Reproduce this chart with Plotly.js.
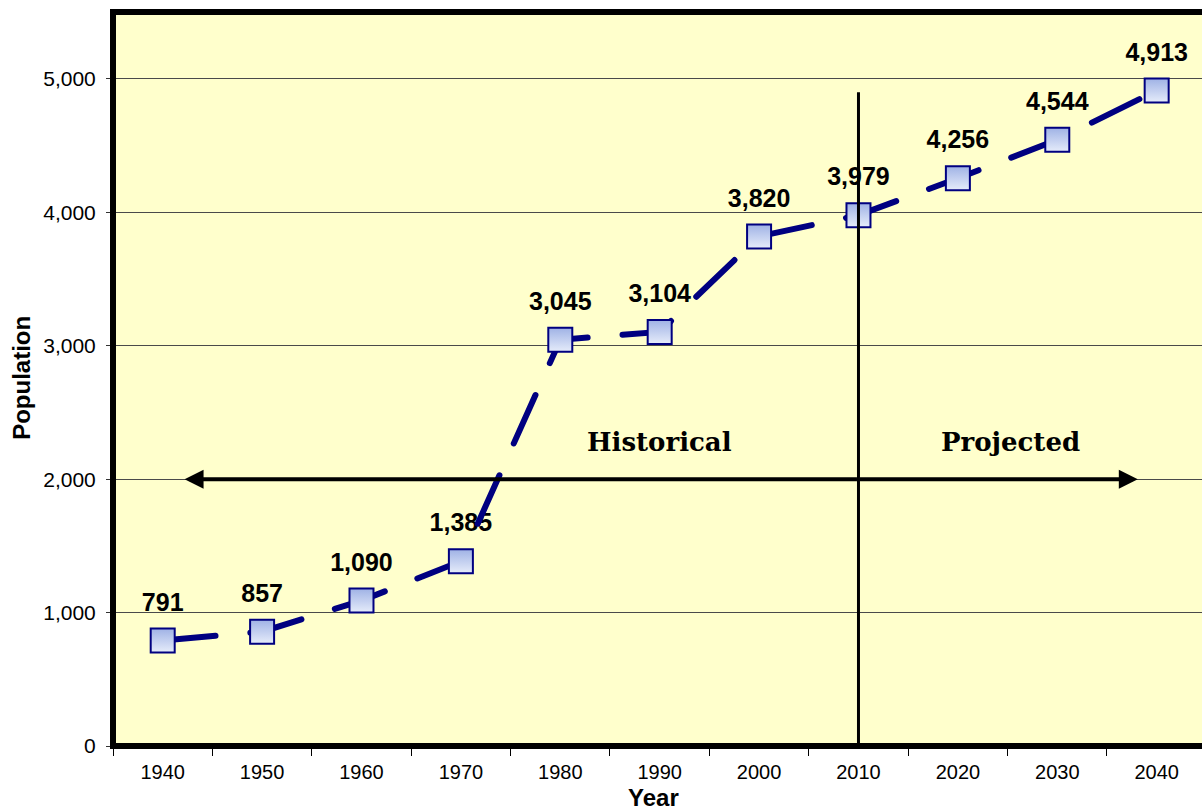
<!DOCTYPE html>
<html>
<head>
<meta charset="utf-8">
<script src="https://cdn.plot.ly/plotly-3.0.1.min.js"></script>
<style>
  html, body { margin: 0; padding: 0; background: #ffffff; overflow: hidden; }
  #chart { width: 1202px; height: 810px; }
  .scatterlayer .js-line { stroke-linecap: round; }
</style>
</head>
<body>
<div id="chart"></div>
<script>
// Census years and population (historical through 2010, projected after)
const years = [1940, 1950, 1960, 1970, 1980, 1990, 2000, 2010, 2020, 2030, 2040];
const population = [791, 857, 1090, 1385, 3045, 3104, 3820, 3979, 4256, 4544, 4913];
const yTicks = [0, 1000, 2000, 3000, 4000, 5000];
const splitYear = 2010;
const periodLabels = ['Historical', 'Projected'];

const SANS = 'Liberation Sans, Arial, sans-serif';

// Value labels sit beneath the dashed line, so they come first
const labelTrace = {
  x: years,
  y: population,
  type: 'scatter',
  mode: 'markers+text',
  marker: { size: 36, opacity: 0 },
  texttemplate: '%{y:,}',
  textposition: 'top center',
  textfont: { family: SANS, size: 25, weight: 'bold', color: '#000000' },
  hoverinfo: 'skip',
  showlegend: false
};

const lineTrace = {
  x: years,
  y: population,
  type: 'scatter',
  mode: 'lines+markers',
  line: { color: '#000080', width: 6, dash: '53px,35px' },
  marker: {
    symbol: 'square',
    size: 24,
    color: '#9fb2e5',
    gradient: { type: 'vertical', color: '#e6ecfa' },
    line: { color: '#000080', width: 2 }
  },
  showlegend: false
};

const layout = {
  width: 1202,
  height: 810,
  margin: { l: 113, r: 0, t: 12, b: 64 },
  paper_bgcolor: '#ffffff',
  plot_bgcolor: '#ffffcc',
  showlegend: false,
  xaxis: {
    range: [1935, 2044.56],
    tickvals: years,
    ticks: '',
    ticklabelstandoff: 12,
    showgrid: false,
    zeroline: false,
    showline: false,
    tickfont: { family: SANS, size: 20, color: '#000000' },
    minor: { tickmode: 'linear', tick0: 1935, dtick: 10, ticks: 'outside', ticklen: 9, tickwidth: 1, tickcolor: '#000000', showgrid: false }
  },
  yaxis: {
    range: [0, 5502],
    tickvals: yTicks,
    tickformat: ',',
    ticks: 'outside',
    ticklen: 6,
    tickcolor: '#333333',
    ticklabelstandoff: 6,
    showgrid: true,
    gridcolor: '#4a4a4a',
    gridwidth: 1,
    zeroline: false,
    showline: false,
    tickfont: { family: SANS, size: 21, color: '#000000' }
  },
  shapes: [
    // chart frame (right edge runs off the page)
    { type: 'rect', xref: 'paper', yref: 'paper', x0: 0, x1: 1.06, y0: 0, y1: 1,
      line: { color: '#000000', width: 6 }, fillcolor: 'rgba(0,0,0,0)' },
    // divider between historical and projected
    { type: 'line', xref: 'x', yref: 'y', x0: splitYear, x1: splitYear, y0: 0, y1: 4900,
      line: { color: '#000000', width: 3 } }
  ],
  annotations: [
    { x: 1942.2, y: 2000, ax: splitYear, ay: 2000, xref: 'x', yref: 'y', axref: 'x', ayref: 'y',
      text: '', showarrow: true, arrowhead: 2, arrowsize: 0.95, arrowwidth: 4, arrowcolor: '#000000',
      standoff: 0, startstandoff: 0 },
    { x: 2038.1, y: 2000, ax: splitYear, ay: 2000, xref: 'x', yref: 'y', axref: 'x', ayref: 'y',
      text: '', showarrow: true, arrowhead: 2, arrowsize: 0.95, arrowwidth: 4, arrowcolor: '#000000',
      standoff: 0, startstandoff: 0 },
    { x: 1990, y: 2280, xref: 'x', yref: 'y', text: periodLabels[0], showarrow: false,
      font: { family: 'DejaVu Serif, serif', size: 26, weight: 'bold', color: '#000000' } },
    { x: 2025.3, y: 2280, xref: 'x', yref: 'y', text: periodLabels[1], showarrow: false,
      font: { family: 'DejaVu Serif, serif', size: 26, weight: 'bold', color: '#000000' } },
    // axis titles
    { x: 1989.4, y: 0, xref: 'x', yref: 'paper', yanchor: 'middle', yshift: -51,
      text: 'Year', showarrow: false,
      font: { family: SANS, size: 24, weight: 'bold', color: '#000000' } },
    { x: 0, y: 2760, xref: 'paper', yref: 'y', xanchor: 'center', xshift: -91,
      text: 'Population', textangle: -90, showarrow: false,
      font: { family: SANS, size: 24, weight: 'bold', color: '#000000' } }
  ]
};

Plotly.newPlot('chart', [labelTrace, lineTrace], layout, { displayModeBar: false, staticPlot: true });
</script>
</body>
</html>
